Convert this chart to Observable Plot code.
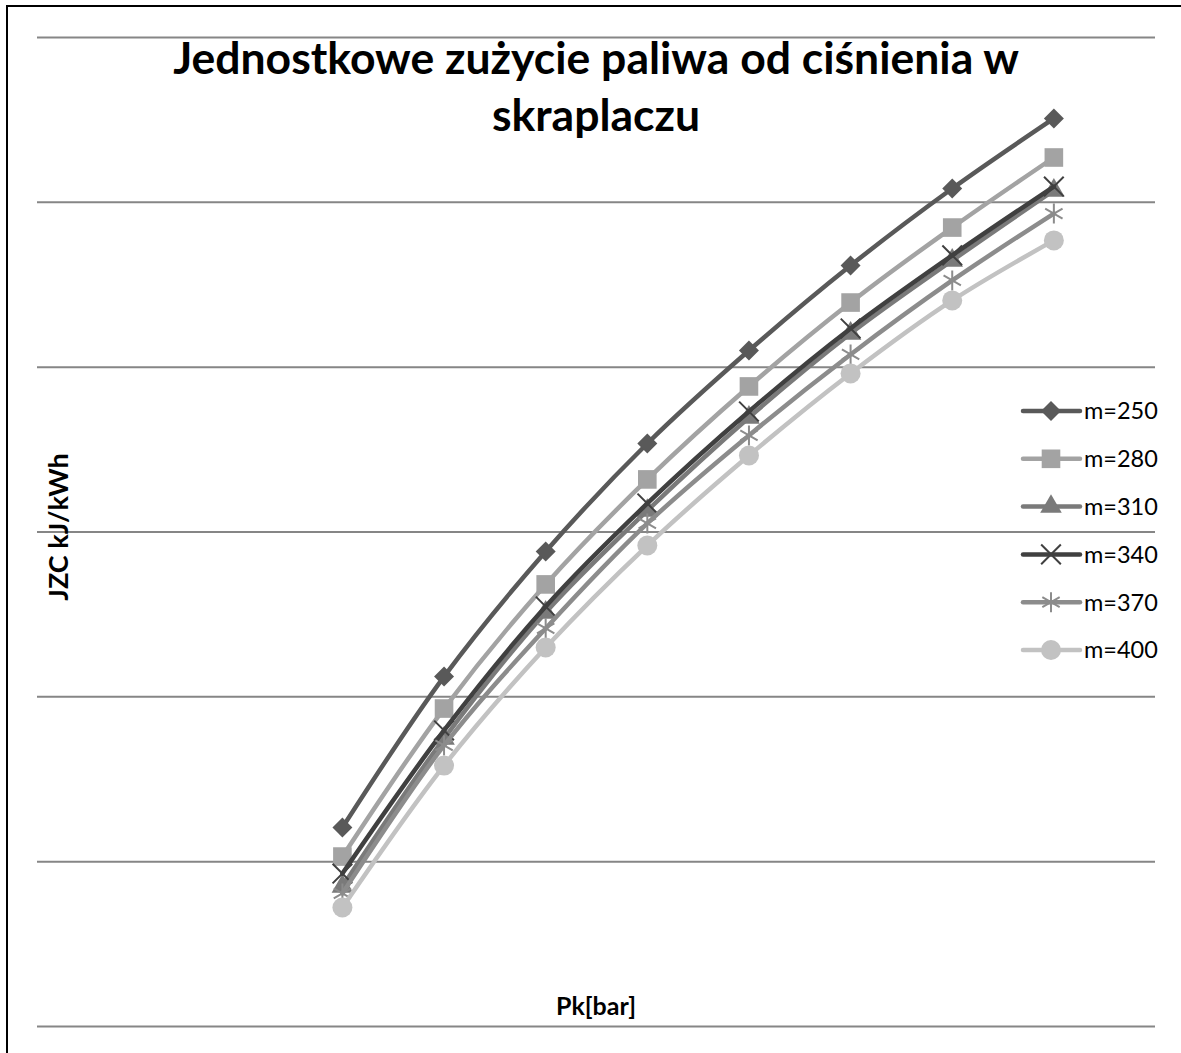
<!DOCTYPE html>
<html>
<head>
<meta charset="utf-8">
<script src="https://cdn.jsdelivr.net/npm/d3@7"></script>
<script src="https://cdn.jsdelivr.net/npm/@observablehq/plot@0.6"></script>
<style>
  html, body { margin: 0; padding: 0; background: #fff; }
  body { width: 1181px; height: 1053px; overflow: hidden; }
  #wrap { position: relative; width: 1181px; height: 1053px; }
  #chart, #overlay, #legend { position: absolute; left: 0; top: 0; }
  text { font-family: Lato, "Open Sans", sans-serif; }
</style>
</head>
<body>
<div id="wrap">
  <div id="chart"></div>
  <svg id="legend" width="1181" height="1053"></svg>
  <svg id="overlay" width="1181" height="1053"></svg>
</div>
<script>
// Category positions of Pk (8 measurement points on an 11-slot category axis)
const pk = [3, 4, 5, 6, 7, 8, 9, 10];
// JZC values, in gridline units (no tick labels in the original)
const m250 = [1.207, 2.123, 2.882, 3.537, 4.101, 4.617, 5.084, 5.509];
const m280 = [1.031, 1.929, 2.682, 3.319, 3.883, 4.392, 4.847, 5.272];
const m310 = [0.849, 1.747, 2.512, 3.130, 3.695, 4.204, 4.647, 5.072];
const m340 = [0.928, 1.796, 2.548, 3.173, 3.731, 4.235, 4.678, 5.096];
const m370 = [0.807, 1.705, 2.415, 3.052, 3.586, 4.077, 4.526, 4.932];
const m400 = [0.722, 1.583, 2.299, 2.918, 3.464, 3.962, 4.405, 4.769];
const seriesNames = ["m=250", "m=280", "m=310", "m=340", "m=370", "m=400"];
const seriesValues = [m250, m280, m310, m340, m370, m400];
const gridTicks = [0, 1, 2, 3, 4, 5, 6];

const colors = ["#595959", "#a3a3a3", "#7a7a7a", "#404040", "#8c8c8c", "#c2c2c2"];
const symbols = ["diamond2", "square", "triangle", "times", "asterisk", "circle"];
const d3symbols = [d3.symbolDiamond2, d3.symbolSquare, d3.symbolTriangle, d3.symbolTimes, d3.symbolAsterisk, d3.symbolCircle];
const radii = [9, 10.5, 8, 9, 9.5, 10];
const strokeSym = [false, false, false, true, true, false];

const marks = [
  Plot.gridY(gridTicks, {stroke: "#868686", strokeOpacity: 1, strokeWidth: 2})
];
seriesNames.forEach((name, i) => {
  const rows = pk.map((x, j) => ({x, y: seriesValues[i][j], s: name}));
  marks.push(Plot.line(rows, {x: "x", y: "y", stroke: colors[i], strokeWidth: 4.5, curve: "catmull-rom"}));
  marks.push(Plot.dot(rows, strokeSym[i]
    ? {x: "x", y: "y", symbol: () => symbols[i], r: radii[i], stroke: colors[i], strokeWidth: 2, fill: "none"}
    : {x: "x", y: "y", symbol: () => symbols[i], r: radii[i], fill: colors[i], stroke: "none"}));
});

const chart = Plot.plot({
  width: 1181,
  height: 1053,
  marginLeft: 37,
  marginRight: 26,
  marginTop: 37,
  marginBottom: 27,
  x: {domain: [0, 11], axis: null},
  y: {domain: [0, 6], axis: null},
  symbol: {type: "identity"},
  marks
});
document.getElementById("chart").appendChild(chart);

// Legend
const leg = d3.select("#legend");
seriesNames.forEach((name, i) => {
  const cy = 411 + i * 47.8;
  const g = leg.append("g");
  g.append("line").attr("x1", 1023).attr("x2", 1080).attr("y1", cy).attr("y2", cy)
    .attr("stroke", colors[i]).attr("stroke-width", 4.5).attr("stroke-linecap", "round");
  const p = g.append("path").attr("d", d3.symbol(d3symbols[i], Math.PI * radii[i] * radii[i])())
    .attr("transform", `translate(1051,${cy})`);
  if (strokeSym[i]) p.attr("fill", "none").attr("stroke", colors[i]).attr("stroke-width", 2);
  else p.attr("fill", colors[i]);
  g.append("text").attr("x", 1084).attr("y", cy).attr("dy", "0.36em")
    .attr("font-size", 23.5).attr("fill", "#000").text(name);
});

// Title, axis labels, frame
const ov = d3.select("#overlay");
ov.append("path").attr("d", "M7,1053V6H1181").attr("fill", "none").attr("stroke", "#000").attr("stroke-width", 2);
ov.append("text").attr("x", 596).attr("y", 74).attr("text-anchor", "middle")
  .attr("font-size", 44.5).attr("font-weight", "bold").text("Jednostkowe zużycie paliwa od ciśnienia w");
ov.append("text").attr("x", 596).attr("y", 131).attr("text-anchor", "middle")
  .attr("font-size", 44.5).attr("font-weight", "bold").text("skraplaczu");
ov.append("text").attr("transform", "translate(68,527) rotate(-90)").attr("text-anchor", "middle")
  .attr("font-size", 27).attr("font-weight", "bold").text("JZC kJ/kWh");
ov.append("text").attr("x", 596).attr("y", 1015).attr("text-anchor", "middle")
  .attr("font-size", 25).attr("font-weight", "bold").text("Pk[bar]");
</script>
</body>
</html>
